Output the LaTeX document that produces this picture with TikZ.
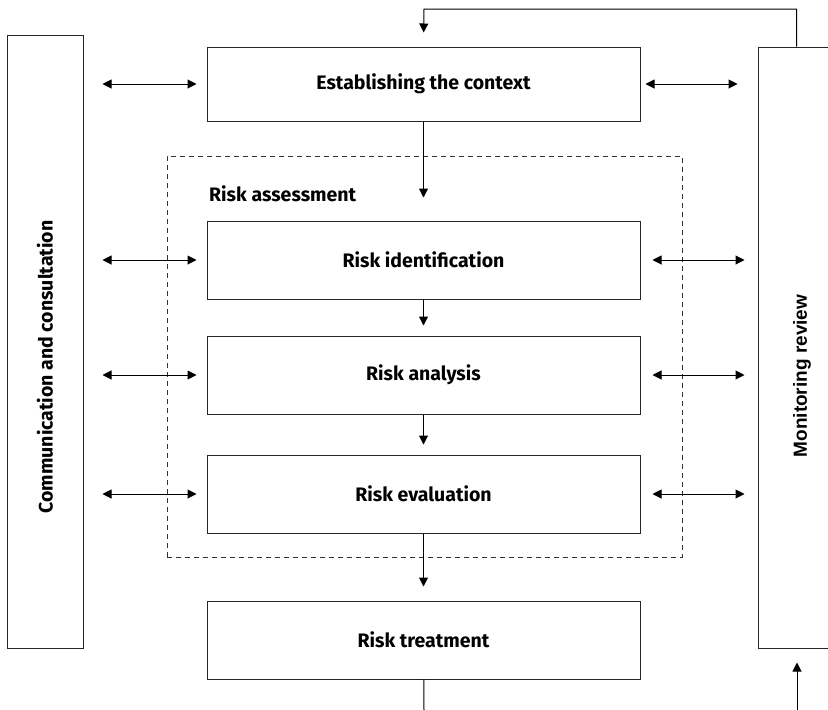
\documentclass[tikz,border=0pt]{standalone}
\usepackage{fontspec}
\setmainfont{Fira Sans}
\newfontfamily\armfont{Liberation Sans}
\usetikzlibrary{positioning,arrows.meta,calc}
\tikzset{
  stage/.style   = {rectangle, draw=black!85, line width=1pt, minimum width=433pt,
                    minimum height=78pt, inner sep=0pt, font=\fontsize{19.5}{22}\selectfont\bfseries},
  side/.style    = {rectangle, draw=black!85, line width=1pt, inner sep=0pt},
  sidelab/.style = {rotate=90, inner sep=0pt, font=\fontsize{19.5}{22}\selectfont\bfseries},
  group/.style   = {rectangle, draw=black!80, dashed, line width=0.8pt, dash pattern=on 5pt off 4pt},
  flow/.style    = {-{Triangle[length=9pt,width=9pt]}, line width=1pt},
  both/.style    = {{Triangle[length=9pt,width=9pt]}-{Triangle[length=9pt,width=9pt]}, line width=1pt},
}

\begin{document}
\begin{tikzpicture}[x=1pt, y=-1pt]

  \useasboundingbox (0,0) rectangle (828,710);
  \clip (0,0) rectangle (828,710);

  % side boxes
  \node[side, minimum width=76pt, minimum height=613pt] (comm) at (45,341.5) {};
  \node[side, minimum width=84pt, minimum height=601pt] (mon)  at (800,347.5) {};
  \node[sidelab] (commtxt) at (45,367) {Communication and consultation};
  \node[sidelab, font=\fontsize{19}{22}\selectfont\armfont\bfseries] (montxt) at (802,376) {Monitoring review};

  % process boxes
  \node[stage, minimum height=74pt] (ctx) at (423.5,84)  {Establishing the context};
  \node[stage] (ident) at (423.5,260) {Risk identification};
  \node[stage] (anal)  at (423.5,375) {Risk analysis};
  \node[stage] (eval)  at (423.5,494) {Risk evaluation};
  \node[stage] (treat) at (423.5,640) {Risk treatment};

  % risk assessment group
  \node[group, minimum width=515pt, minimum height=401pt] (assess) at (424.5,356.5) {};
  \node[anchor=west, inner sep=0pt, font=\fontsize{19.5}{22}\selectfont\bfseries] (assesslab) at (209,194) {Risk assessment};

  % free ends
  \coordinate (out)  at (424,710);
  \coordinate (back) at (797,710);

  % main flow
  \draw[flow, shorten >=23pt] (ctx) -- (ident);
  \draw[flow, shorten >=10pt] (ident) -- (anal);
  \draw[flow, shorten >=10pt] (anal) -- (eval);
  \draw[flow, shorten >=14pt] (eval) -- (treat);
  \draw[line width=1pt] (treat) -- (out);

  % feedback loop
  \draw[flow, shorten >=14pt] ($(mon.north west)+(39,0)$) |- (424,9) -- (ctx.north);
  \draw[flow, shorten >=14pt] (back) -- (back |- mon.south);

  % exchange with the side boxes
  \draw[both, shorten <=19pt, shorten >=10pt] (ctx.west -| comm.east) -- (ctx.west);
  \draw[both, shorten <=5pt, shorten >=20pt] (ctx.east) -- (ctx.east -| mon.west);
  \foreach \b in {ident,anal,eval} {
    \draw[both, shorten <=19pt, shorten >=10pt] (\b.west -| comm.east) -- (\b.west);
    \draw[both, shorten <=12pt, shorten >=13pt] (\b.east) -- (\b.east -| mon.west);
  }

\end{tikzpicture}
\end{document}
